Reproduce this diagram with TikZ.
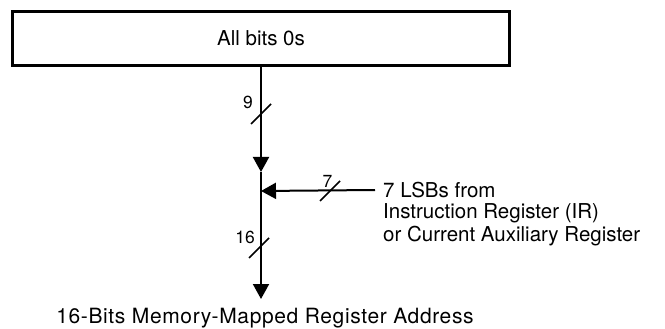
\documentclass[tikz,border=0pt]{standalone}
\usepackage{fontspec}
\setmainfont{TeX Gyre Heros}
\usetikzlibrary{arrows.meta,positioning}
\newcommand{\busslash}[1]{\draw[slash] ([shift={(-10,10)}]#1) -- ([shift={(10,-10)}]#1);}

\begin{document}
\begin{tikzpicture}[x=1pt,y=-1pt, every node/.style={font=\fontsize{20.5}{23}\selectfont},
  regbox/.style={draw,line width=3pt,minimum width=497pt,minimum height=54pt},
  bus/.style={line width=2pt}, tip/.style={bus,-{Triangle[length=15pt,width=16pt]}},
  slash/.style={line width=1.7pt}, lab/.style={inner sep=0pt,font=\fontsize{17.5}{20}\selectfont}]
  \useasboundingbox (0,0) rectangle (665,329);
  % register address source
  \node[regbox] (zeros) at (261,38.5) {All bits 0s};
  \coordinate (mid) at (261,172);
  \coordinate (join) at (261,191);
  \node[anchor=north,inner ysep=9pt,font=\fontsize{21}{23}\selectfont\addfontfeature{LetterSpace=3}]
    (addr) at (265,299) {16-Bits Memory-Mapped Register Address};
  \node[anchor=west,inner xsep=8pt] (lsb) at (375,190) {7 LSBs from};
  \node[anchor=north west,align=left,inner sep=0pt] (regs) at ([xshift=8pt,yshift=-1.5pt]lsb.south west)
    {Instruction Register (IR)\\or Current Auxiliary Register};
  % buses
  \draw[tip] (zeros.south) -- (mid);
  \draw[bus] (mid) -- (join);
  \draw[tip] (join) -- (addr.north -| join);
  \draw[tip] (lsb.west) -- (join);
  \coordinate (s9) at (261,114);
  \coordinate (s16) at (259,248);
  \coordinate (s7) at (330,191);
  \busslash{s9} \busslash{s16} \busslash{s7}
  \node[lab] (nine) at (248,102.5) {9};
  \node[lab] (sixteen) at (245,237) {16};
  \node[lab] (seven) at (327.5,181) {7};
\end{tikzpicture}
\end{document}
